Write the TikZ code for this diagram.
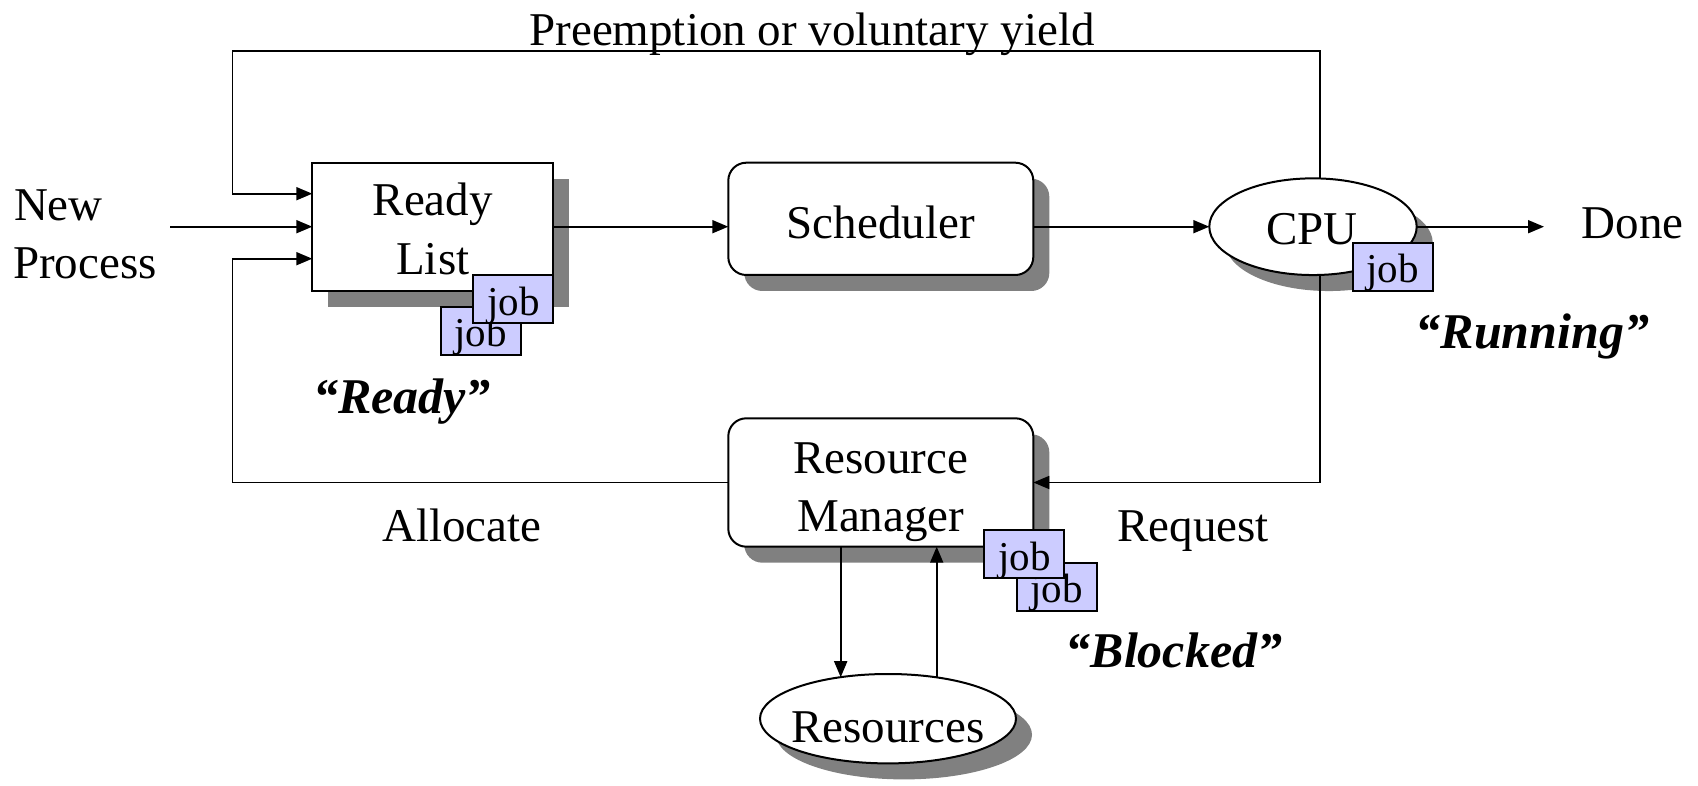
\documentclass[tikz,border=0pt]{standalone}
\usepackage{fontspec}
\setmainfont{Liberation Serif}
\usetikzlibrary{arrows.meta,shapes.geometric,shadows}
\definecolor{shadegray}{RGB}{128,128,128}
\definecolor{jobfill}{RGB}{204,204,255}

\begin{document}
\begin{tikzpicture}[x=0.5pt,y=-0.5pt,
  every node/.style={inner sep=0pt, outer sep=0pt},
  boxshadow/.style={drop shadow={shadow xshift=8pt,shadow yshift=-8pt,fill=shadegray,opacity=1}},
  plainbox/.style={draw, line width=1pt, fill=white, rectangle, boxshadow},
  roundbox/.style={plainbox, rounded corners=9pt},
  oval/.style={draw, line width=1pt, fill=white, ellipse, boxshadow},
  jobbox/.style={draw, line width=1pt, fill=jobfill, minimum width=40pt, minimum height=24pt, anchor=north west},
  jobtext/.style={font=\fontsize{20.5}{20.5}\selectfont, anchor=base},
  lbl/.style={font=\fontsize{23.5}{23.5}\selectfont, anchor=base},
  statelbl/.style={font=\fontsize{25}{25}\selectfont\bfseries\itshape, anchor=base},
  conn/.style={line width=0.9pt, -{Triangle[length=8pt,width=6.5pt]}}]
\useasboundingbox (0,0) rectangle (1698,786);

% main blocks
\node[plainbox, minimum width=120.5pt, minimum height=64pt] (ready) at (432.8,226.7) {};
\node[roundbox, minimum width=152.5pt, minimum height=56.15pt] (sched) at (880.8,218.85) {};
\node[roundbox, minimum width=152.5pt, minimum height=64.2pt] (rm) at (880.8,482.5) {};
\node[oval, minimum width=103.7pt, minimum height=48.35pt] (cpu) at (1313,226.7) {};
\node[oval, minimum width=128pt, minimum height=44.7pt] (res) at (888,718.7) {};

% block texts
\node[lbl] (readyA) at (432.8,216) {Ready};
\node[lbl] (readyB) at (432.8,275) {List};
\node[lbl] (schedt) at (880.8,238.3) {Scheduler};
\node[lbl] (rmA) at (880.8,473) {Resource};
\node[lbl] (rmB) at (880.8,531) {Manager};
\node[lbl] (cput) at (1312,245) {CPU};
\node[lbl] (rest) at (888,742) {Resources};

% free texts
\node[lbl] (preempt) at (812,45.5) {Preemption or voluntary yield};
\node[lbl, anchor=base west] (newA) at (14,221) {New};
\node[lbl, anchor=base west] (newB) at (13,279) {Process};
\node[lbl, anchor=base west] (done) at (1581.7,239) {Done};
\node[lbl] (alloc) at (461.7,541) {Allocate};
\node[lbl] (req) at (1193.3,541.7) {Request};
\node[statelbl] (sready) at (402,413) {“Ready”};
\node[statelbl] (srun) at (1532.5,349) {“Running”};
\node[statelbl] (sblock) at (1174,667) {“Blocked”};

% routing points
\coordinate (newin) at (170,226.7);
\coordinate (doneout) at (1544,226.7);
\coordinate (tl) at (232.5,51);
\coordinate (tr) at (1320,51);
\coordinate (bl) at (232.5,483);
\coordinate (br) at (1320,483);
\coordinate (dnx) at (840.7,0);
\coordinate (upx) at (936.7,0);

% connectors
\draw[conn] (newin) -- (ready.west);
\draw[conn] (ready.east) -- (ready.east -| sched.west);
\draw[conn] (cpu.west -| sched.east) -- (cpu.west);
\draw[conn] (cpu.east) -- (doneout);
\draw[conn] (cpu.north -| tr) |- (tl) |- ([yshift=16.5pt]ready.west);
\draw[conn] (cpu.south -| br) |- (rm.east);
\draw[conn] (rm.west) -- (rm.west -| bl) |- ([yshift=-16pt]ready.west);
\draw[conn] (rm.south -| dnx) -- (dnx |- res.139);
\draw[conn] (upx |- res.41) -- (rm.south -| upx);

% queued jobs
\node[jobbox] (rj2) at (440.7,306.7) {};
\node[jobtext] (rj2t) at ([shift={(40,40)}]rj2.north west) {job};
\node[jobbox] (rj1) at (473.3,275) {};
\node[jobtext] (rj1t) at ([shift={(40,40)}]rj1.north west) {job};
\node[jobbox] (cj) at (1352.7,242.7) {};
\node[jobtext] (cjt) at ([shift={(40,40)}]cj.north west) {job};
\node[jobbox] (mj2) at (1016.7,562.7) {};
\node[jobtext] (mj2t) at ([shift={(40,40)}]mj2.north west) {job};
\node[jobbox] (mj1) at (984.3,530) {};
\node[jobtext] (mj1t) at ([shift={(40,40)}]mj1.north west) {job};
\end{tikzpicture}
\end{document}
